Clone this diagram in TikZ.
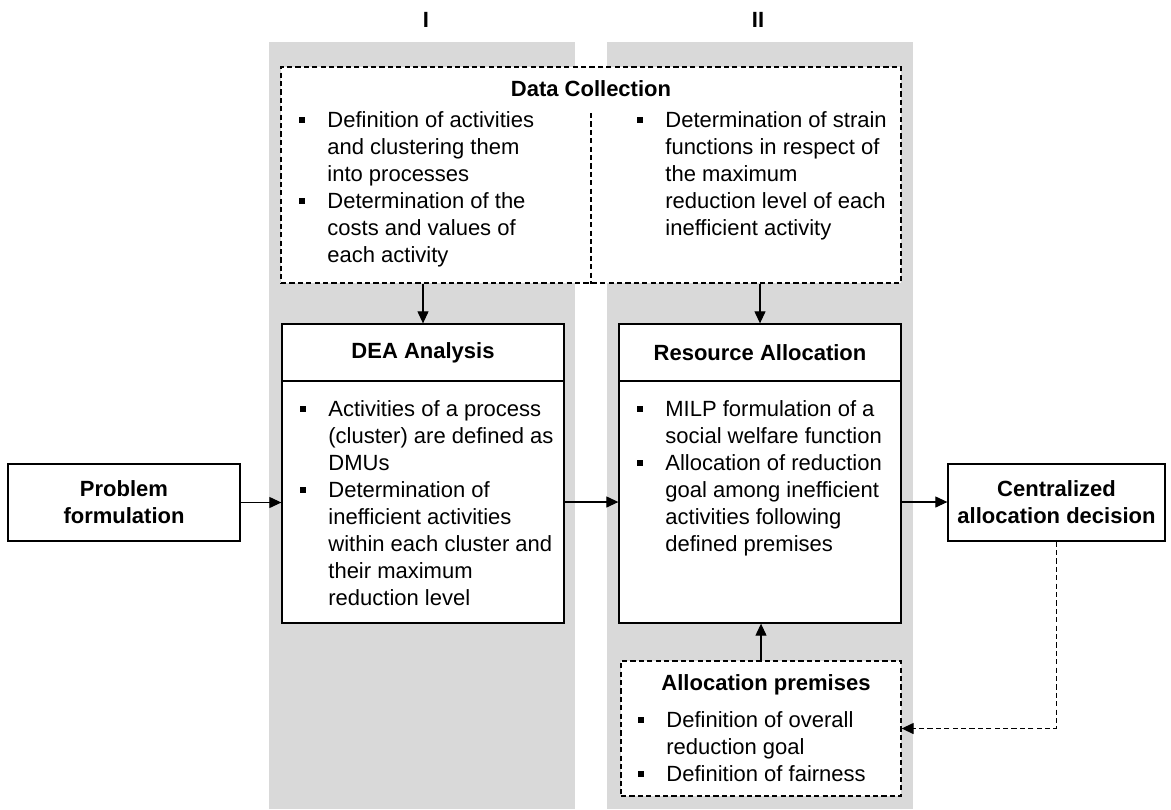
\documentclass[tikz,border=0pt]{standalone}
\usepackage{fontspec}
\setmainfont{Liberation Sans}
\usetikzlibrary{arrows.meta}

\definecolor{colbg}{HTML}{D9D9D9}
\newcommand{\sq}{\rule[2.4pt]{3pt}{3pt}}

\begin{document}
\begin{tikzpicture}[x=0.5pt,y=-0.5pt,
    font=\fontsize{11}{13.5}\selectfont,
    solidbox/.style={draw, line width=0.65pt, fill=white, inner sep=0pt},
    dashbox/.style={solidbox, dash pattern=on 2.6pt off 1.6pt},
    title/.style={font=\fontsize{11}{13.5}\selectfont\bfseries, align=center},
    itemtext/.style={anchor=north west, inner sep=0pt},
    arr/.style={line width=0.55pt, -{Triangle[length=6pt,width=5.5pt]}}]

        \useasboundingbox (0,0) rectangle (1171,809);

        % Phase columns
        \fill[colbg] (269,42) rectangle (575,809);
        \fill[colbg] (607,42) rectangle (913,809);
        \node[title] (phase1) at (426,20) {I};
        \node[title] (phase2) at (758,20) {II};

        % Data collection
        \node[dashbox, minimum width=310pt, minimum height=108pt] (dc) at (591,175) {};
        \node[title] (dctitle) at (591,89) {Data Collection};
        \coordinate (dcsplit) at (591,113);
        \draw[line width=0.65pt, dash pattern=on 2.6pt off 1.6pt] (dcsplit) -- (dcsplit |- dc.south);
        \node[itemtext] (dcleft) at (299,108) {\begin{tabular}{@{}p{14pt}@{}l@{}}
            \sq & Definition of activities\\
                & and clustering them\\
                & into processes\\
            \sq & Determination of the\\
                & costs and values of\\
                & each activity
        \end{tabular}};
        \node[itemtext] (dcright) at (637,108) {\begin{tabular}{@{}p{14pt}@{}l@{}}
            \sq & Determination of strain\\
                & functions in respect of\\
                & the maximum\\
                & reduction level of each\\
                & inefficient activity
        \end{tabular}};

        % Problem formulation
        \node[solidbox, minimum width=116pt, minimum height=38.5pt, title] (prob) at (124,502.5) {Problem\\formulation};

        % DEA analysis
        \node[solidbox, minimum width=141pt, minimum height=28.5pt, title] (deahead) at (423,352.5) {DEA Analysis};
        \node[solidbox, minimum width=141pt, minimum height=121pt] (deabody) at (423,502) {};
        \node[itemtext] (deatext) at (300,397) {\begin{tabular}{@{}p{14pt}@{}l@{}}
            \sq & Activities of a process\\
                & (cluster) are defined as\\
                & DMUs\\
            \sq & Determination of\\
                & inefficient activities\\
                & within each cluster and\\
                & their maximum\\
                & reduction level
        \end{tabular}};

        % Resource allocation
        \node[solidbox, minimum width=141pt, minimum height=28.5pt, title] (rahead) at (760,352.5) {Resource Allocation};
        \node[solidbox, minimum width=141pt, minimum height=121pt] (rabody) at (760,502) {};
        \node[itemtext] (ratext) at (637,397) {\begin{tabular}{@{}p{14pt}@{}l@{}}
            \sq & MILP formulation of a\\
                & social welfare function\\
            \sq & Allocation of reduction\\
                & goal among inefficient\\
                & activities following\\
                & defined premises
        \end{tabular}};

        % Allocation premises
        \node[dashbox, minimum width=140pt, minimum height=67.5pt] (ap) at (761,728.5) {};
        \node[title] (aptitle) at (766,685) {Allocation premises};
        \node[itemtext] (aptext) at (638,708) {\begin{tabular}{@{}p{14pt}@{}l@{}}
            \sq & Definition of overall\\
                & reduction goal\\
            \sq & Definition of fairness
        \end{tabular}};

        % Decision
        \node[solidbox, minimum width=108.5pt, minimum height=38.5pt, title] (cen) at (1056.5,502.5) {Centralized\\allocation decision};

        % Connections
        \draw[arr] (prob.east) -- (prob.east -| deabody.west);
        \draw[arr] (deabody) -- (rabody);
        \draw[arr] (rabody.east) -- (rabody.east -| cen.west);
        \draw[arr] (dc.south -| deahead.north) -- (deahead.north);
        \draw[arr] (dc.south -| rahead.north) -- (rahead.north);
        \draw[arr] (ap.north) -- (ap.north |- rabody.south);
        \draw[arr, line width=0.65pt, dash pattern=on 2.6pt off 1.6pt] (cen.south) |- (ap.east);

\end{tikzpicture}
\end{document}
